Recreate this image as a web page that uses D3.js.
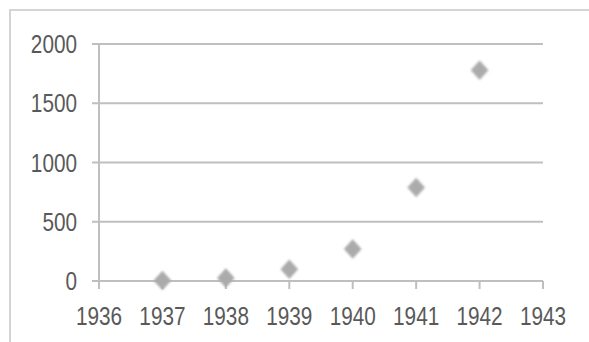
<!DOCTYPE html>
<html>
<head>
<meta charset="utf-8">
<script src="https://cdn.jsdelivr.net/npm/d3@7"></script>
<style>
  body { margin: 0; background: #fff; }
  svg { display: block; }
  text { font-family: 'Liberation Sans', Arial, sans-serif; fill: #595959; }
</style>
</head>
<body>
<div id="chart"></div>
<script>
const width = 589;
const height = 342;

const years = [1937, 1938, 1939, 1940, 1941, 1942];
const values = [5, 25, 100, 270, 790, 1780];
const xTicks = [1936, 1937, 1938, 1939, 1940, 1941, 1942, 1943];
const yTicks = [0, 500, 1000, 1500, 2000];

const gridColor = '#bfbfbf';
const markerColor = '#ababab';
const squeeze = 0.83; // the original uses a narrow face

const data = years.map((y, i) => ({ year: y, value: values[i] }));

const svg = d3
  .select('#chart')
  .append('svg')
  .attr('width', width)
  .attr('height', height);

// soft edges on the markers, like the scanned original
svg
  .append('defs')
  .append('filter')
  .attr('id', 'soft')
  .append('feGaussianBlur')
  .attr('stdDeviation', 1);

// outer frame (only top and left visible)
svg
  .append('path')
  .attr('d', `M10,${height} V10 H${width}`)
  .attr('fill', 'none')
  .attr('stroke', '#d4d4d4')
  .attr('stroke-width', 2);

const xScale = d3.scaleLinear().domain([1936, 1943]).range([99, 543]);
const yScale = d3.scaleLinear().domain([0, 2000]).range([281, 44]);

// horizontal gridlines
svg
  .append('g')
  .selectAll('line')
  .data(yTicks)
  .enter()
  .append('line')
  .attr('x1', 92)
  .attr('x2', xScale(1943))
  .attr('y1', (d) => yScale(d))
  .attr('y2', (d) => yScale(d))
  .attr('stroke', gridColor)
  .attr('stroke-width', 2);

// y axis line
svg
  .append('line')
  .attr('x1', xScale(1936))
  .attr('x2', xScale(1936))
  .attr('y1', yScale(2000))
  .attr('y2', yScale(0) + 8)
  .attr('stroke', gridColor)
  .attr('stroke-width', 2);

// x ticks
svg
  .append('g')
  .selectAll('line')
  .data(xTicks)
  .enter()
  .append('line')
  .attr('x1', (d) => xScale(d))
  .attr('x2', (d) => xScale(d))
  .attr('y1', yScale(0))
  .attr('y2', yScale(0) + 8)
  .attr('stroke', gridColor)
  .attr('stroke-width', 2);

// y labels
svg
  .append('g')
  .selectAll('text')
  .data(yTicks)
  .enter()
  .append('text')
  .attr('transform', (d) => `translate(77,${yScale(d) + 9}) scale(${squeeze},1)`)
  .attr('text-anchor', 'end')
  .attr('font-size', 25)
  .text((d) => d);

// x labels
svg
  .append('g')
  .selectAll('text')
  .data(xTicks)
  .enter()
  .append('text')
  .attr('transform', (d) => `translate(${xScale(d)},325) scale(${squeeze},1)`)
  .attr('text-anchor', 'middle')
  .attr('font-size', 25)
  .text((d) => d);

// diamond markers
svg
  .append('g')
  .attr('filter', 'url(#soft)')
  .selectAll('path')
  .data(data)
  .enter()
  .append('path')
  .attr('transform', (d) => `translate(${xScale(d.year)},${yScale(d.value)}) scale(1,1.1)`)
  .attr('d', d3.symbol(d3.symbolDiamond2, 200))
  .attr('fill', markerColor);
</script>
</body>
</html>
